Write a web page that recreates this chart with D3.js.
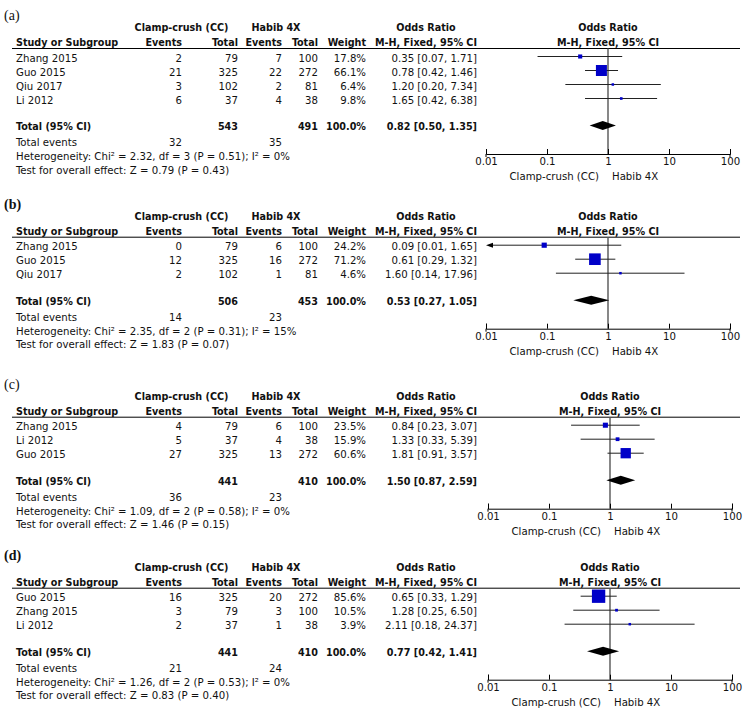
<!DOCTYPE html>
<html><head><meta charset="utf-8">
<script src="https://cdn.jsdelivr.net/npm/d3@7"></script>
<style>
body{margin:0;background:#fff}
text{font-family:"DejaVu Sans Condensed","DejaVu Sans",sans-serif;font-size:11.3px;fill:#111}
text.b{font-size:10.7px;font-weight:bold}
</style>
</head><body><svg id="c" width="743" height="713"></svg>
<script>
// ---------- DATA ----------
const panelLabels = ["(a)", "(b)", "(c)", "(d)"];
const studyNames = [
  ["Zhang 2015", "Guo 2015", "Qiu 2017", "Li 2012"],
  ["Zhang 2015", "Guo 2015", "Qiu 2017"],
  ["Zhang 2015", "Li 2012", "Guo 2015"],
  ["Guo 2015", "Zhang 2015", "Li 2012"]
];
const ccEvents = [[2, 21, 3, 6], [0, 12, 2], [4, 5, 27], [16, 3, 2]];
const ccTotals = [[79, 325, 102, 37], [79, 325, 102], [79, 37, 325], [325, 79, 37]];
const h4Events = [[7, 22, 2, 4], [6, 16, 1], [6, 4, 13], [20, 3, 1]];
const h4Totals = [[100, 272, 81, 38], [100, 272, 81], [100, 38, 272], [272, 100, 38]];
const weights = [[17.8, 66.1, 6.4, 9.8], [24.2, 71.2, 4.6], [23.5, 15.9, 60.6], [85.6, 10.5, 3.9]];
const oddsRatios = [[0.35, 0.78, 1.20, 1.65], [0.09, 0.61, 1.60], [0.84, 1.33, 1.81], [0.65, 1.28, 2.11]];
const ciLower = [[0.07, 0.42, 0.20, 0.42], [0.01, 0.29, 0.14], [0.23, 0.33, 0.91], [0.33, 0.25, 0.18]];
const ciUpper = [[1.71, 1.46, 7.34, 6.38], [1.65, 1.32, 17.96], [3.07, 5.39, 3.57], [1.29, 6.50, 24.37]];
const totalCC = [543, 506, 441, 441];
const totalH4 = [491, 453, 410, 410];
const totalEventsCC = [32, 14, 36, 21];
const totalEventsH4 = [35, 23, 23, 24];
const pooledOR = [0.82, 0.53, 1.50, 0.77];
const pooledLower = [0.50, 0.27, 0.87, 0.42];
const pooledUpper = [1.35, 1.05, 2.59, 1.41];
const chiSquare = [2.32, 2.35, 1.09, 1.26];
const degreesFreedom = [3, 2, 2, 2];
const hetP = [0.51, 0.31, 0.58, 0.53];
const iSquare = [0, 15, 0, 0];
const zValues = [0.79, 1.83, 1.46, 0.83];
const zP = [0.43, 0.07, 0.15, 0.40];
const axisTicks = [0.01, 0.1, 1, 10, 100];

// ---------- LAYOUT ----------
const svg = d3.select("#c");
const panelY = [42, 230.7, 410.7, 581.7];
const xRanges = [[486, 730], [486, 730], [488, 732], [488, 732]];
const col = {name: 16, ccE: 182, ccT: 238, hE: 282, hT: 318, w: 366, or: 477};
const sizeScale = d3.scalePow().exponent(0.75).domain([0, 100]).range([0, 15]);
const f2 = d3.format(".2f"), f1 = d3.format(".1f");
const blue = "#0000c8";

function txt(g, x, y, s, anchor, bold) {
  return g.append("text").attr("x", x).attr("y", y).attr("dy", "0.36em")
    .attr("text-anchor", anchor || "start")
    .attr("class", bold ? "b" : null).text(s);
}

panelLabels.forEach((lab, p) => {
  const g = svg.append("g");
  const y0 = panelY[p];
  const x = d3.scaleLog().domain([0.01, 100]).range(xRanges[p]);
  const xc = x(1);

  g.append("text").attr("x", 4).attr("y", y0 - 27).attr("dy", "0.36em")
    .style("font-family", "'Liberation Serif', serif").style("font-size", "14px")
    .style("font-weight", (p === 1 || p === 3) ? "bold" : null).text(lab);

  // header row 1
  const h1 = y0 - 14.5;
  txt(g, 181.5, h1, "Clamp-crush (CC)", "middle", true);
  txt(g, 276, h1, "Habib 4X", "middle", true);
  txt(g, 426, h1, "Odds Ratio", "middle", true);
  txt(g, xc, h1, "Odds Ratio", "middle", true);
  // header row 2
  txt(g, col.name, y0, "Study or Subgroup", "start", true);
  txt(g, col.ccE, y0, "Events", "end", true);
  txt(g, col.ccT, y0, "Total", "end", true);
  txt(g, col.hE, y0, "Events", "end", true);
  txt(g, col.hT, y0, "Total", "end", true);
  txt(g, col.w, y0, "Weight", "end", true);
  txt(g, col.or, y0, "M-H, Fixed, 95% CI", "end", true);
  txt(g, xc, y0, "M-H, Fixed, 95% CI", "middle", true);

  const lineY = y0 + 6.5;
  g.append("line").attr("x1", 12).attr("x2", 740).attr("y1", lineY).attr("y2", lineY)
    .attr("stroke", "#000").attr("stroke-width", 1);

  const n = studyNames[p].length;
  const rowY = i => y0 + 15.5 + i * 14;
  const yT = rowY(n - 1) + 27;
  const axisY = yT + 27.5;

  // null line
  g.append("line").attr("x1", xc).attr("x2", xc).attr("y1", lineY).attr("y2", axisY)
    .attr("stroke", "#555").attr("stroke-width", 1.4);

  studyNames[p].forEach((name, i) => {
    const y = rowY(i);
    txt(g, col.name, y, name);
    txt(g, col.ccE, y, ccEvents[p][i], "end");
    txt(g, col.ccT, y, ccTotals[p][i], "end");
    txt(g, col.hE, y, h4Events[p][i], "end");
    txt(g, col.hT, y, h4Totals[p][i], "end");
    txt(g, col.w, y, f1(weights[p][i]) + "%", "end");
    txt(g, col.or, y, `${f2(oddsRatios[p][i])} [${f2(ciLower[p][i])}, ${f2(ciUpper[p][i])}]`, "end");

    const ym = y - 1;
    const lo = Math.max(ciLower[p][i], 0.01), hi = Math.min(ciUpper[p][i], 100);
    const clippedLow = ciLower[p][i] <= 0.01;
    g.append("line").attr("x1", x(lo) + (clippedLow ? 3 : 0)).attr("x2", x(hi))
      .attr("y1", ym).attr("y2", ym).attr("stroke", "#222").attr("stroke-width", 1);
    if (clippedLow) {
      const ax = x(0.01);
      g.append("path").attr("d", `M${ax},${ym}L${ax + 7},${ym - 2.5}L${ax + 7},${ym + 2.5}Z`).attr("fill", "#000");
    }
    const s = Math.max(sizeScale(weights[p][i]), 2.5);
    const cx = x(oddsRatios[p][i]);
    g.append("rect").attr("x", cx - s / 2).attr("y", ym - s / 2).attr("width", s).attr("height", s)
      .attr("fill", blue);
  });

  // totals
  txt(g, col.name, yT, "Total (95% CI)", "start", true);
  txt(g, col.ccT, yT, totalCC[p], "end", true);
  txt(g, col.hT, yT, totalH4[p], "end", true);
  txt(g, col.w, yT, "100.0%", "end", true);
  txt(g, col.or, yT, `${f2(pooledOR[p])} [${f2(pooledLower[p])}, ${f2(pooledUpper[p])}]`, "end", true);
  const yd = yT - 1;
  g.append("path").attr("d",
    `M${x(pooledLower[p])},${yd}L${x(pooledOR[p])},${yd - 4.5}L${x(pooledUpper[p])},${yd}L${x(pooledOR[p])},${yd + 4.5}Z`)
    .attr("fill", "#000");

  txt(g, col.name, yT + 15.5, "Total events");
  txt(g, col.ccE, yT + 15.5, totalEventsCC[p], "end");
  txt(g, col.hE, yT + 15.5, totalEventsH4[p], "end");
  txt(g, col.name, yT + 29.5,
    `Heterogeneity: Chi² = ${f2(chiSquare[p])}, df = ${degreesFreedom[p]} (P = ${f2(hetP[p])}); I² = ${iSquare[p]}%`);
  txt(g, col.name, yT + 43, `Test for overall effect: Z = ${f2(zValues[p])} (P = ${f2(zP[p])})`);

  // axis
  const ax = g.append("g").attr("transform", `translate(0,${axisY})`)
    .call(d3.axisBottom(x).tickValues(axisTicks).tickFormat(d => String(d)).tickSize(-5).tickSizeOuter(-5).tickPadding(3));
  ax.attr("font-family", null).attr("font-size", null);
  ax.select(".domain").attr("stroke", "#000");
  ax.selectAll(".tick line").attr("stroke", "#000");
  ax.selectAll(".tick text").attr("fill", "#111");
  // end ticks extend slightly below the axis line
  [0.01, 100].forEach(v => ax.append("line").attr("x1", x(v)).attr("x2", x(v)).attr("y1", 0).attr("y2", 3).attr("stroke", "#000"));

  txt(g, xc - 9, axisY + 22, "Clamp-crush (CC)", "end");
  txt(g, xc + 4, axisY + 22, "Habib 4X", "start");
});
</script>
</body></html>
